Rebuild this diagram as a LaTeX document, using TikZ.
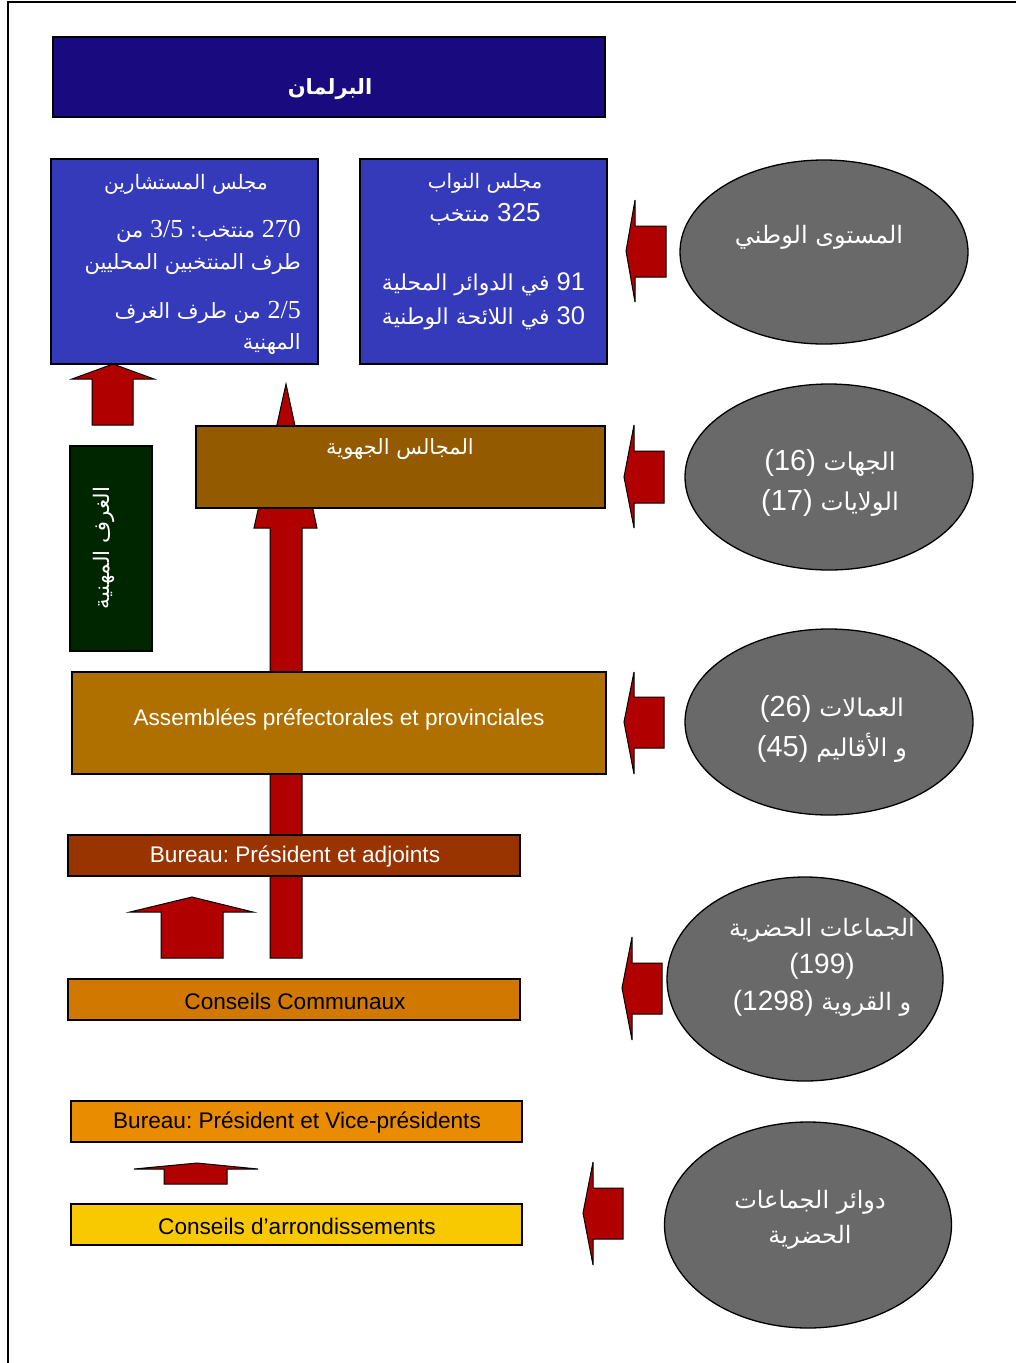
\documentclass[tikz,border=0pt]{standalone}
\usepackage{fontspec}
\setmainfont{Liberation Sans}
\newfontfamily\ar[Script=Arabic]{DejaVu Sans}
\newfontfamily\tnr{Liberation Serif}
\TeXXeTstate=1
\frenchspacing
\usetikzlibrary{shapes.geometric}
\definecolor{titleblue}{RGB}{26,10,128}
\definecolor{boxblue}{RGB}{52,58,186}
\definecolor{ellgray}{RGB}{105,105,105}
\definecolor{arrred}{RGB}{176,0,0}
\definecolor{darkgreen}{RGB}{0,38,0}
\definecolor{regbrown}{RGB}{148,90,0}
\definecolor{assocre}{RGB}{176,112,0}
\definecolor{burbrown}{RGB}{153,51,0}
\definecolor{comorange}{RGB}{208,120,0}
\definecolor{bur2orange}{RGB}{234,140,0}
\definecolor{arryellow}{RGB}{248,200,0}
\begin{document}
\begin{tikzpicture}[x=1pt,y=-1pt,
  box/.style={draw=black, line width=1.3pt, inner sep=0pt},
  arr/.style={fill=arrred, draw=black, line width=1pt, line join=miter},
  ell/.style={ellipse, draw=black, fill=ellgray, line width=1.3pt, inner sep=0pt},
  wt/.style={text=white, inner sep=0pt},
  bk/.style={text=black, inner sep=0pt},
  arfont/.style={font=\ar\fontsize{#1}{#1}\selectfont},
  lat/.style={font=\frenchspacing\fontsize{22.6}{26}\selectfont}]
\useasboundingbox (0,0) rectangle (1016,1363);
\draw[line width=1.6pt] (8,1363) -- (8,2) -- (1016,2);

% block arrows (drawn first, under the boxes)
\draw[arr] (270,958) -- (270,528) -- (254,528) -- (286,384) -- (317,528) -- (302,528) -- (302,958) -- cycle;
\draw[arr] (92,425) -- (92,379) -- (72,379) -- (113,364) -- (154,379) -- (133,379) -- (133,425) -- cycle;
\draw[arr] (161,958) -- (161,912) -- (130,912) -- (192,897) -- (253,912) -- (223,912) -- (223,958) -- cycle;
\draw[arr] (164,1184) -- (164,1169) -- (134,1169) -- (197,1163) -- (258,1169) -- (227,1169) -- (227,1184) -- cycle;
\draw[arr] (666,226) -- (635,226) -- (635,200) -- (626,251) -- (635,302) -- (635,277) -- (666,277) -- cycle;
\draw[arr] (664,451) -- (634,451) -- (634,425) -- (624,477) -- (634,528) -- (634,503) -- (664,503) -- cycle;
\draw[arr] (664,697) -- (634,697) -- (634,672) -- (624,722) -- (634,774) -- (634,748) -- (664,748) -- cycle;
\draw[arr] (662,963) -- (632,963) -- (632,937) -- (622,988) -- (632,1040) -- (632,1014) -- (662,1014) -- cycle;
\draw[arr] (623,1188) -- (593,1188) -- (593,1162) -- (583,1213) -- (593,1265) -- (593,1239) -- (623,1239) -- cycle;

% boxes
\node[box, fill=titleblue, minimum width=552, minimum height=80] (parl) at (329,77) {};
\node[wt, font=\ar\bfseries\fontsize{21}{26}\selectfont] (parlt) at (330,89) {\beginR البرلمان\endR};

\node[box, fill=boxblue, minimum width=267, minimum height=205] (senate) at (184.5,261.5) {};
\node[wt, arfont=20] (sen1) at (186,184) {\beginR مجلس المستشارين\endR};
\node[wt, font=\ar\fontsize{21}{32}\selectfont, align=right, anchor=east] (sen2) at (301,247)
  {\beginR من\endR{} {\tnr\fontsize{26}{32}\selectfont 3/5} \beginR منتخب:\endR{} {\tnr\fontsize{26}{32}\selectfont 270}\\
   \beginR طرف المنتخبين المحليين\endR};
\node[wt, font=\ar\fontsize{21}{31}\selectfont, align=right, anchor=east] (sen3) at (301,327.5)
  {\beginR من طرف الغرف\endR{} {\tnr\fontsize{26}{31}\selectfont 2/5}\\
   \beginR المهنية\endR};

\node[box, fill=boxblue, minimum width=247, minimum height=205] (deput) at (483.5,261.5) {};
\node[wt, font=\ar\fontsize{20}{33}\selectfont, align=center] (dep1) at (485,199.5)
  {\beginR مجلس النواب\endR\\ {\fontsize{22}{33}\selectfont\beginR منتخب\endR{} {\rmfamily\fontsize{26}{33}\selectfont 325}}};
\node[wt, font=\ar\fontsize{22}{34}\selectfont, align=center] (dep2) at (483.5,301)
  {\beginR في الدوائر المحلية\endR{} {\fontsize{25.5}{34}\selectfont\rmfamily 91}\\
   \beginR في اللائحة الوطنية\endR{} {\fontsize{25.5}{34}\selectfont\rmfamily 30}};

\node[box, fill=darkgreen, minimum width=82, minimum height=205] (cham) at (111,548.5) {};
\node[wt, arfont=21.4, rotate=90] (chamt) at (104,548) {\beginR الغرف المهنية\endR};

\node[box, fill=regbrown, minimum width=409, minimum height=82] (reg) at (400.5,467) {};
\node[wt, arfont=21] (regt) at (400,449) {\beginR المجالس الجهوية\endR};

\node[box, fill=assocre, minimum width=534, minimum height=102] (asm) at (339,723) {};
\node[wt, lat] (asmt) at (339,720) {Assemblées préfectorales et provinciales};

\node[box, fill=burbrown, minimum width=452, minimum height=41] (bur1) at (294,855.5) {};
\node[wt, lat] (bur1t) at (295,857) {Bureau: Président et adjoints};

\node[box, fill=comorange, minimum width=452, minimum height=41] (com) at (294,999.5) {};
\node[bk, lat] (comt) at (295,1001) {Conseils Communaux};

\node[box, fill=bur2orange, minimum width=451, minimum height=41] (bur2) at (296.5,1121.5) {};
\node[bk, lat] (bur2t) at (297,1123) {Bureau: Président et Vice-présidents};

\node[box, fill=arryellow, minimum width=451, minimum height=41] (arrd) at (296.5,1224.5) {};
\node[bk, lat] (arrdt) at (297,1226) {Conseils d’arrondissements};

% ellipses
\node[ell, minimum width=288, minimum height=184] (e1) at (824,252) {};
\node[wt, arfont=24] (e1t) at (819,237) {\beginR المستوى الوطني\endR};

\node[ell, minimum width=288, minimum height=186] (e2) at (829,477) {};
\node[wt, font=\ar\fontsize{24.5}{40}\selectfont, align=center] (e2t) at (830,483)
  {{\rmfamily\fontsize{29}{40}\selectfont (16)} \beginR الجهات\endR\\
   {\rmfamily\fontsize{29}{40}\selectfont (17)} \beginR الولايات\endR};

\node[ell, minimum width=288, minimum height=186] (e3) at (829,722) {};
\node[wt, font=\ar\fontsize{24.5}{40}\selectfont, align=center] (e3t) at (832,729)
  {{\rmfamily\fontsize{29}{40}\selectfont (26)} \beginR العمالات\endR\\
   {\rmfamily\fontsize{29}{40}\selectfont (45)} \beginR و الأقاليم\endR};

\node[ell, minimum width=276, minimum height=204] (e4) at (805,979) {};
\node[wt, font=\ar\fontsize{24}{37}\selectfont, align=center] (e4t) at (822,967)
  {\beginR الجماعات الحضرية\endR\\
   {\rmfamily\fontsize{28}{37}\selectfont (199)}\\
   {\rmfamily\fontsize{28}{37}\selectfont (1298)} \beginR و القروية\endR};

\node[ell, minimum width=287, minimum height=206] (e5) at (808,1225) {};
\node[wt, font=\ar\fontsize{24}{35}\selectfont, align=center] (e5t) at (810,1220)
  {\beginR دوائر الجماعات\endR\\ \beginR الحضرية\endR};
\end{tikzpicture}
\end{document}
